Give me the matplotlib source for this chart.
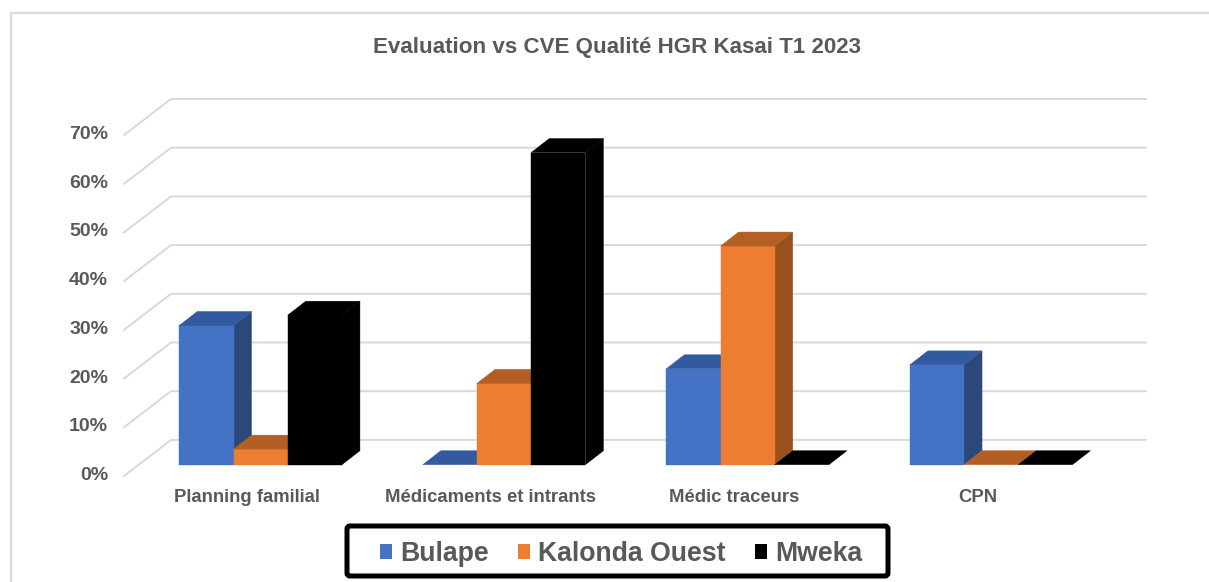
import matplotlib
matplotlib.use('Agg')
import matplotlib.pyplot as plt
from matplotlib.patches import Polygon, Patch, FancyBboxPatch

plt.rcParams['font.family'] = ['Liberation Sans', 'DejaVu Sans']

# Data
categories = ['Planning familial', 'Médicaments et intrants', 'Médic traceurs', 'CPN']
series_names = ['Bulape', 'Kalonda Ouest', 'Mweka']
bulape = [28.6, 0, 19.7, 20.5]
kalonda = [3.2, 16.7, 44.9, 0]
mweka = [30.7, 64.1, 0, 0]
grid_levels = [0, 10, 20, 30, 40, 50, 60, 70]
tick_labels = ['0%', '10%', '20%', '30%', '40%', '50%', '60%', '70%']

# front, top, side colours per series
front_colors = ['#4472C4', '#ED7D31', '#000000']
top_colors = ['#335A9E', '#B35E22', '#000000']
side_colors = ['#2A4879', '#98501C', '#000000']
text_color = '#595959'
grid_color = '#D9D9D9'

fig = plt.figure(figsize=(12.09, 5.82), dpi=100)
ax = fig.add_axes([0, 0, 1, 1])
ax.set_xlim(-1.0144, 2.9507 + 1.0)
ax.set_ylim(-24.09, 95.42)
ax.axis('off')

# Chart frame (only top and left are visible)
ax.plot([3.95, -0.969, -0.969], [92.75, 92.75, -24.09], color=grid_color, lw=1.6,
        solid_joinstyle='miter')

# Walls and gridlines
for level in grid_levels:
    ax.plot([-0.505, -0.312, 3.692], [level - 2.3, level + 5.09, level + 5.09],
            color=grid_color, lw=1.4, solid_joinstyle='miter')

# Fake 3D bars
bar_w = 0.2226
depth_x = 0.074
depth_y = 2.87
first_left = -0.278


def add_face(points, color):
    ax.add_patch(Polygon(points, closed=True, facecolor=color, edgecolor=color, lw=0.3, zorder=3))


for i in range(len(categories)):
    for j, values in enumerate([bulape, kalonda, mweka]):
        v = values[i]
        x0 = i + first_left + j * bar_w
        x1 = x0 + bar_w
        if v > 0:
            add_face([(x1, 0), (x1 + depth_x, depth_y), (x1 + depth_x, v + depth_y), (x1, v)], side_colors[j])
            add_face([(x0, 0), (x1, 0), (x1, v), (x0, v)], front_colors[j])
        add_face([(x0, v), (x1, v), (x1 + depth_x, v + depth_y), (x0 + depth_x, v + depth_y)], top_colors[j])

# Axis labels
for level, label in zip(grid_levels, tick_labels):
    ax.text(-0.57, level - 2.2, label, ha='right', va='center', fontsize=14,
            fontweight='bold', color=text_color)
for i, name in enumerate(categories):
    ax.text(i, -6.8, name, ha='center', va='center', fontsize=13.3,
            fontweight='bold', color=text_color)

ax.text(1.518, 85.7, 'Evaluation vs CVE Qualité HGR Kasai T1 2023', ha='center', va='center',
        fontsize=16.1, fontweight='bold', color=text_color)

# Legend, with its thick box drawn separately
ax.add_patch(FancyBboxPatch((3.47, 0.06), 5.41, 0.50, boxstyle='round,pad=0,rounding_size=0.03',
                            transform=fig.dpi_scale_trans, facecolor='white', edgecolor='black',
                            lw=3.6, zorder=4))
handles = [Patch(facecolor=c, edgecolor='none') for c in front_colors]
ax.legend(handles, series_names, loc='center', bbox_to_anchor=(0.514, 0.0482), ncol=3,
          frameon=False, handlelength=0.45, handleheight=0.45, handletextpad=0.3,
          columnspacing=1.1, labelcolor=text_color, prop={'weight': 'bold', 'size': 19.2})

fig.savefig('out.png', dpi=100)
